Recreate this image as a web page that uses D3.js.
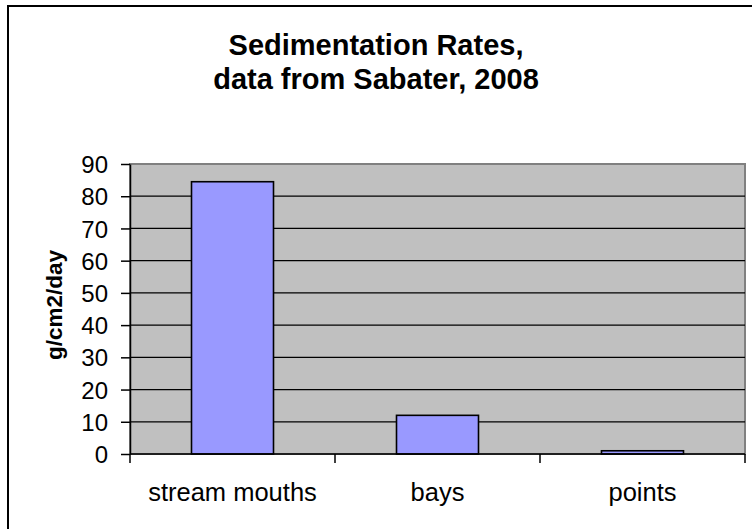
<!DOCTYPE html>
<html>
<head>
<meta charset="utf-8">
<script src="https://cdn.jsdelivr.net/npm/d3@7"></script>
<style>
	html, body { margin: 0; padding: 0; background: #fff; overflow: hidden; }
	#app { width: 752px; height: 529px; }
	text { font-family: 'Liberation Sans', Arial, sans-serif; fill: #000; }
</style>
</head>
<body>
<div id="app"></div>
<script>
const categories = ['stream mouths', 'bays', 'points'];
const rates = [84.5, 12, 1];
const yTicks = [0, 10, 20, 30, 40, 50, 60, 70, 80, 90];
const titleLines = ['Sedimentation Rates,', 'data from Sabater, 2008'];
const yLabel = 'g/cm2/day';

const render = () => {
	const width = 752;
	const height = 529;
	const plot = {left: 130, right: 745, top: 164, bottom: 454};

	const svg = d3.select('#app').append('svg')
		.attr('width', width)
		.attr('height', height);

	// chart frame, running off the right and bottom edges
	svg.append('rect')
		.attr('x', 8)
		.attr('y', 6)
		.attr('width', 780)
		.attr('height', 560)
		.attr('fill', 'none')
		.attr('stroke', '#000')
		.attr('stroke-width', 2);

	svg.selectAll('text.title')
		.data(titleLines)
		.enter()
		.append('text')
		.attr('class', 'title')
		.attr('x', 376)
		.attr('y', (d, i) => 55 + i * 34)
		.attr('text-anchor', 'middle')
		.attr('font-size', 29)
		.attr('font-weight', 'bold')
		.text((d) => d);

	const x = d3.scaleBand()
		.domain(categories)
		.range([plot.left, plot.right])
		.paddingInner(0.6)
		.paddingOuter(0.3);

	const y = d3.scaleLinear()
		.domain([0, 90])
		.range([plot.bottom, plot.top]);

	svg.append('rect')
		.attr('x', plot.left)
		.attr('y', plot.top)
		.attr('width', plot.right - plot.left)
		.attr('height', plot.bottom - plot.top)
		.attr('fill', '#c0c0c0')
		.attr('stroke', '#808080')
		.attr('stroke-width', 2);

	svg.append('g')
		.selectAll('line')
		.data(yTicks.filter((t) => t > 0 && t < 90))
		.enter()
		.append('line')
		.attr('x1', plot.left)
		.attr('x2', plot.right)
		.attr('y1', (d) => y(d))
		.attr('y2', (d) => y(d))
		.attr('stroke', '#000')
		.attr('stroke-width', 1.3);

	svg.append('g')
		.selectAll('rect')
		.data(rates)
		.enter()
		.append('rect')
		.attr('x', (d, i) => x(categories[i]))
		.attr('y', (d) => y(d))
		.attr('width', x.bandwidth())
		.attr('height', (d) => y(0) - y(d))
		.attr('fill', '#9999ff')
		.attr('stroke', '#000')
		.attr('stroke-width', 1.6);

	const yAxis = svg.append('g')
		.attr('transform', `translate(${plot.left},0)`)
		.call(d3.axisLeft(y).tickValues(yTicks).tickSize(9).tickPadding(0).tickSizeOuter(0));
	yAxis.attr('font-family', null).attr('font-size', null);
	yAxis.select('.domain').attr('stroke', '#000').attr('stroke-width', 1.5);
	yAxis.selectAll('.tick line').attr('stroke', '#000').attr('stroke-width', 1.5);
	yAxis.selectAll('.tick text')
		.attr('font-size', 24)
		.attr('x', -22)
		.attr('dy', '0.36em');

	const xAxis = svg.append('g')
		.attr('transform', `translate(0,${plot.bottom})`);
	xAxis.append('line')
		.attr('x1', plot.left)
		.attr('x2', plot.right)
		.attr('stroke', '#000')
		.attr('stroke-width', 1.5);
	const bounds = [plot.left].concat(categories.map((c) => x(c) + x.bandwidth() / 2 + x.step() / 2));
	xAxis.selectAll('line.tick')
		.data(bounds)
		.enter()
		.append('line')
		.attr('class', 'tick')
		.attr('x1', (d) => d)
		.attr('x2', (d) => d)
		.attr('y1', 0)
		.attr('y2', 9)
		.attr('stroke', '#000')
		.attr('stroke-width', 1.5);
	xAxis.selectAll('text')
		.data(categories)
		.enter()
		.append('text')
		.attr('x', (d) => x(d) + x.bandwidth() / 2)
		.attr('y', 47)
		.attr('text-anchor', 'middle')
		.attr('font-size', 25.5)
		.text((d) => d);

	svg.append('text')
		.attr('transform', 'translate(62,305) rotate(-90)')
		.attr('text-anchor', 'middle')
		.attr('font-size', 22.5)
		.attr('font-weight', 'bold')
		.text(yLabel);
};

render();
</script>
</body>
</html>
